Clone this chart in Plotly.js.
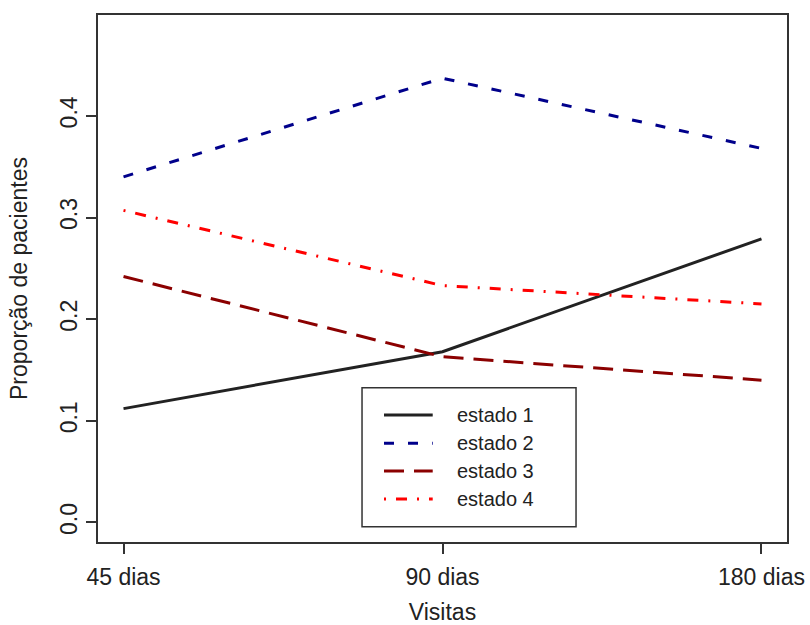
<!DOCTYPE html>
<html>
<head>
<meta charset="utf-8">
<script src="https://cdn.plot.ly/plotly-3.0.1.min.js"></script>
<style>html,body{margin:0;padding:0;background:#fff;}#chart{width:810px;height:625px;}</style>
</head>
<body>
<div id="chart"></div>
<script>
// ---- data ----
var visitas = ["45 dias", "90 dias", "180 dias"];
var estado1 = [0.112, 0.168, 0.279];
var estado2 = [0.340, 0.437, 0.368];
var estado3 = [0.242, 0.163, 0.140];
var estado4 = [0.307, 0.233, 0.215];
var seriesNames = ["estado 1", "estado 2", "estado 3", "estado 4"];
var yTicks = [0.0, 0.1, 0.2, 0.3, 0.4];
var yTickText = ["0.0", "0.1", "0.2", "0.3", "0.4"];

// ---- styles ----
var colors = ["#222222", "#00008B", "#8B0000", "#FF0000"];
var dashes = ["solid", "10px,14px", "20px,10px", "2px,10px,11px,10px"];
var font = "Liberation Sans, Arial, Helvetica, sans-serif";
var txt = "#222222";

var values = [estado1, estado2, estado3, estado4];
var traces = values.map(function (v, i) {
  return {
    x: visitas, y: v, type: "scatter", mode: "lines", name: seriesNames[i],
    line: {color: colors[i], width: 3, dash: dashes[i]},
    showlegend: false, hoverinfo: "x+y+name"
  };
});

// ---- manual legend (R-style box) ----
var L = {x0: 0.3832, x1: 0.6938, y0: 0.0290, y1: 0.2928};
var rowY = [0.2410, 0.1873, 0.1347, 0.0816];
var sx0 = 0.4151, sx1 = 0.4858, tx = 0.5181;
var shapes = [{
  type: "rect", xref: "paper", yref: "paper", x0: L.x0, x1: L.x1, y0: L.y0, y1: L.y1,
  line: {color: "#333333", width: 1.5}, fillcolor: "rgba(255,255,255,1)", layer: "above"
}];
var annotations = [];
seriesNames.forEach(function (n, i) {
  shapes.push({
    type: "line", xref: "paper", yref: "paper", x0: sx0, x1: sx1, y0: rowY[i], y1: rowY[i],
    line: {color: colors[i], width: 3, dash: dashes[i]}, layer: "above"
  });
  annotations.push({
    xref: "paper", yref: "paper", x: tx, y: rowY[i], xanchor: "left", yanchor: "middle",
    text: n, showarrow: false, font: {family: font, size: 20, color: txt}
  });
});

var layout = {
  width: 810, height: 625,
  margin: {l: 98, r: 23, t: 15, b: 83},
  paper_bgcolor: "#ffffff", plot_bgcolor: "#ffffff",
  font: {family: font, size: 23, color: txt},
  showlegend: false,
  xaxis: {
    type: "category", range: [-0.08, 2.08],
    showgrid: false, zeroline: false,
    showline: true, mirror: true, linecolor: "#333333", linewidth: 2,
    ticks: "outside", ticklen: 10, tickwidth: 2, tickcolor: "#333333",
    ticklabelstandoff: 3,
    tickfont: {family: font, size: 23, color: txt},
    title: {text: "Visitas", font: {family: font, size: 23, color: txt}, standoff: 16}
  },
  yaxis: {
    range: [-0.0192, 0.4992],
    tickvals: yTicks, ticktext: yTickText, tickangle: -90,
    showgrid: false, zeroline: false,
    showline: true, mirror: true, linecolor: "#333333", linewidth: 2,
    ticks: "outside", ticklen: 10, tickwidth: 2, tickcolor: "#333333",
    tickfont: {family: font, size: 23, color: txt},
    title: {text: "Proporção de pacientes", font: {family: font, size: 23, color: txt}, standoff: 22}
  },
  shapes: shapes,
  annotations: annotations
};

Plotly.newPlot("chart", traces, layout, {displayModeBar: false, staticPlot: true});
</script>
</body>
</html>
